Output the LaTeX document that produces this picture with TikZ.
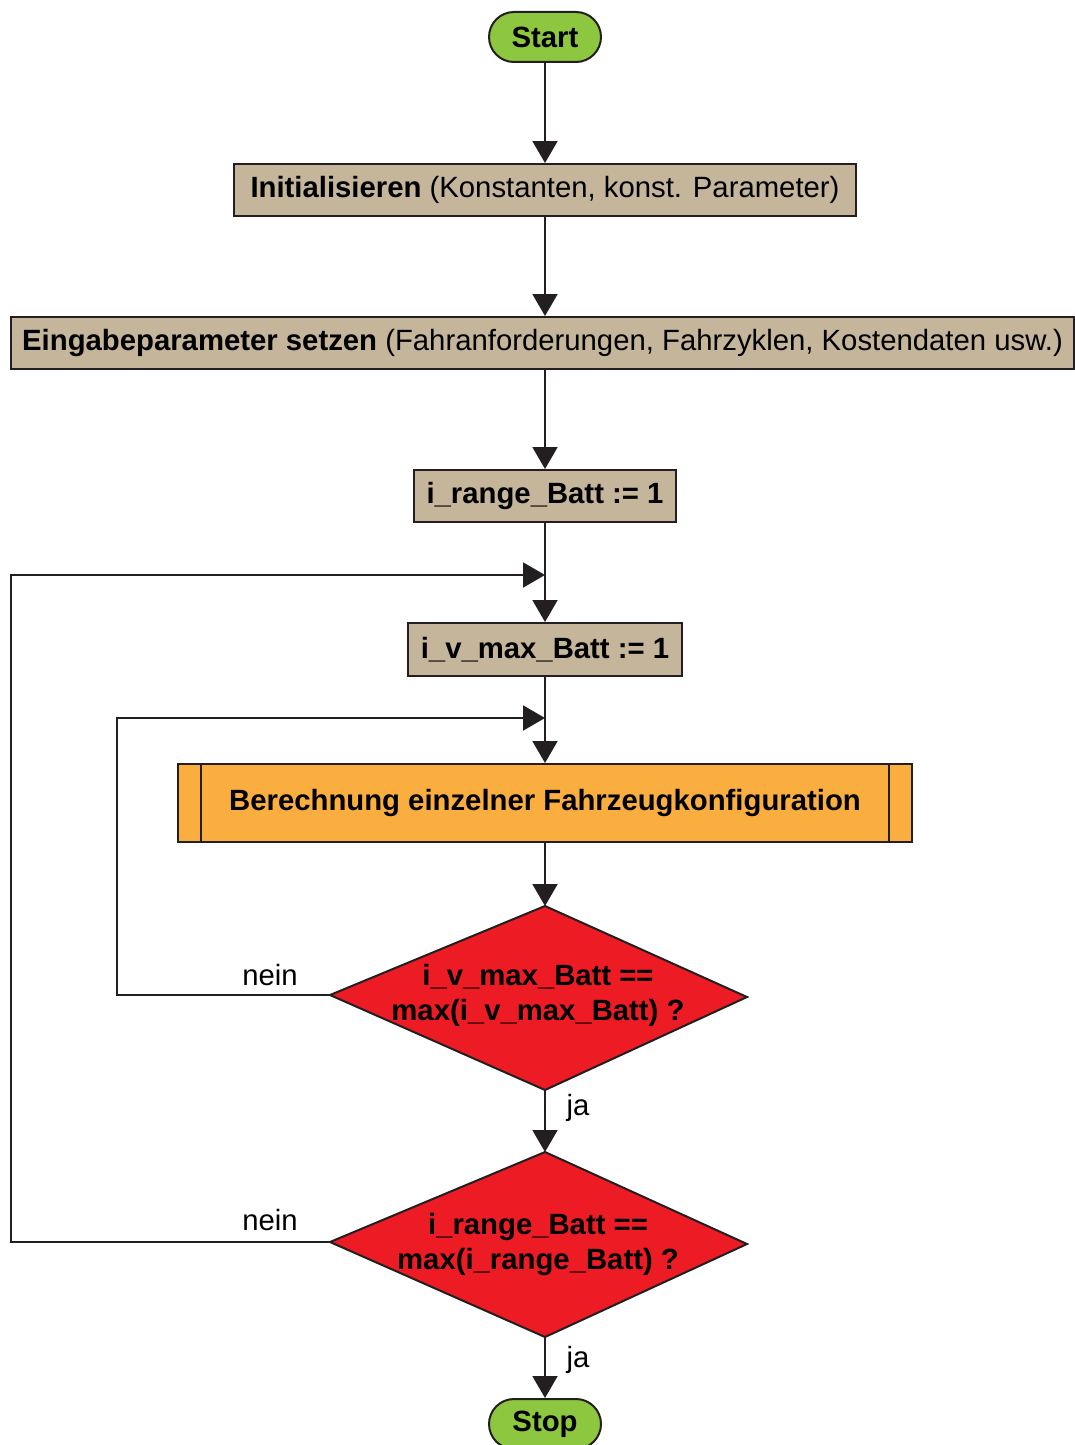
\documentclass[tikz,border=0pt]{standalone}
\usepackage{fontspec}
\setmainfont{Liberation Sans}
\usetikzlibrary{arrows.meta}
\definecolor{tan}{HTML}{C4B59B}
\definecolor{grn}{HTML}{8DC63F}
\definecolor{orng}{HTML}{FBAE40}
\definecolor{rd}{HTML}{ED1C24}
\definecolor{ln}{HTML}{231F20}
\newcommand{\fz}{\fontsize{29.3}{35}\selectfont}
\tikzset{
  base/.style={draw=ln, line width=2pt, inner sep=0pt, font=\fz},
  term/.style={base, fill=grn, rounded corners=25pt, minimum width=112pt, minimum height=50pt, font=\fz\bfseries},
  proc/.style={base, fill=tan, minimum height=52pt},
  sub/.style={base, fill=orng, minimum height=78pt, minimum width=734pt, font=\fz\bfseries},
  decshape/.style={draw=ln, line width=2pt, fill=rd, line join=miter},
  dectext/.style={align=center, font=\fz\bfseries, inner sep=0pt},
  lbl/.style={inner sep=0pt, font=\fz},
  conn/.style={draw=ln, line width=2pt, -{Triangle[width=25pt,length=22pt]}},
  plain/.style={draw=ln, line width=2pt},
}
\begin{document}
\begin{tikzpicture}[x=1pt, y=-1pt]
\useasboundingbox (0,0) rectangle (1075,1445);
\node[term] (start) at (545,37) {Start};
\node[proc, minimum width=622pt] (init) at (545,190) {\textbf{Initialisieren} (Konstanten, konst. Parameter)};
\node[proc, minimum width=1063pt] (eing) at (542.5,343) {\textbf{Eingabeparameter setzen} (Fahranforderungen, Fahrzyklen, Kostendaten usw.)};
\node[proc, minimum width=262pt, font=\fz\bfseries] (irange) at (545,496) {i\_range\_Batt := 1};
\node[proc, minimum width=274pt, minimum height=53pt, font=\fz\bfseries] (ivmax) at (545,649.5) {i\_v\_max\_Batt := 1};
\node[sub] (ber) at (545,803) {Berechnung einzelner Fahrzeugkonfiguration};
\draw[plain] ([xshift=24pt]ber.north west) -- ([xshift=24pt]ber.south west);
\draw[plain] ([xshift=-24pt]ber.north east) -- ([xshift=-24pt]ber.south east);
% decision 1
\coordinate (d1n) at (545,906);
\coordinate (d1e) at (747,997);
\coordinate (d1s) at (545,1090);
\coordinate (d1w) at (330,995);
\draw[decshape] (d1n) -- (d1e) -- (d1s) -- (d1w) -- cycle;
\node[dectext] (d1) at (538,995) {i\_v\_max\_Batt ==\\max(i\_v\_max\_Batt) ?};
% decision 2
\coordinate (d2n) at (545,1152);
\coordinate (d2e) at (747,1244);
\coordinate (d2s) at (545,1337);
\coordinate (d2w) at (330,1242);
\draw[decshape] (d2n) -- (d2e) -- (d2s) -- (d2w) -- cycle;
\node[dectext] (d2) at (538,1244) {i\_range\_Batt ==\\max(i\_range\_Batt) ?};
\node[term] (stop) at (545,1424) {Stop};
\coordinate (j1) at (545,575);
\coordinate (j2) at (545,718);
\draw[conn] (start) -- (init);
\draw[conn] (init) -- (eing.north -| init.south);
\draw[conn] (eing.south -| irange.north) -- (irange);
\draw[conn] (irange) -- (ivmax);
\draw[conn] (ivmax) -- (ber);
\draw[conn] (ber) -- (d1n);
\draw[conn] (d1s) -- (d2n);
\draw[conn] (d2s) -- (stop);
\node[lbl] (ja1) at (578,1108) {ja};
\node[lbl] (ja2) at (578,1360) {ja};
\draw[conn] (d1w) -- ++(-213,0) |- (j2);
\draw[conn] (d2w) -- ++(-319,0) |- (j1);
\node[lbl] (n1) at (270,975) {nein};
\node[lbl] (n2) at (270,1220) {nein};
\end{tikzpicture}
\end{document}
